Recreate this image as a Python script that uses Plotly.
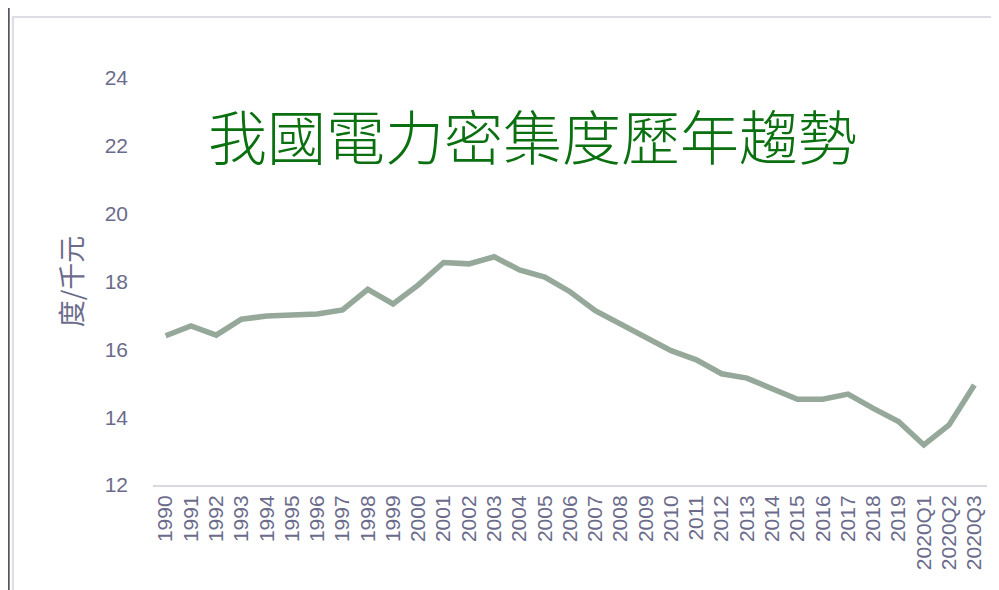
"""我國電力密集度歷年趨勢 - line chart recreated with plotly"""

import plotly.graph_objects as go

years = [str(y) for y in range(1990, 2020)] + ["2020Q1", "2020Q2", "2020Q3"]
intensity = [16.40, 16.69, 16.42, 16.89, 16.98, 16.99, 17.04, 17.16, 17.77, 17.34,
             17.90, 18.56, 18.52, 18.73, 18.34, 18.13, 17.70, 17.14, 16.75, 16.36,
             15.96, 15.69, 15.28, 15.15, 14.82, 14.53, 14.53, 14.68, 14.26, 13.87,
             13.18, 13.77, 14.95]

y_ticks = [12, 14, 16, 18, 20, 22, 24]

label_color = "#6b6b8b"
tick_font = dict(family="Liberation Sans, Arial, sans-serif", size=21, color=label_color)

fig = go.Figure()

fig.add_trace(go.Scatter(
    x=years,
    y=intensity,
    mode="lines",
    line=dict(color="#95a89a", width=5.5),
    showlegend=False,
))

# outer frame of the original slide (page body has an 8px margin)
fig.add_shape(type="rect", xref="paper", yref="paper",
              x0=-0.168, y0=-0.3, x1=1.05, y1=1.15,
              line=dict(color="#dcdce4", width=2), fillcolor="rgba(0,0,0,0)", layer="below")
fig.add_shape(type="line", xref="paper", yref="paper",
              x0=-0.173, y0=-0.3, x1=-0.173, y1=1.25,
              line=dict(color="#55555f", width=2))

fig.add_annotation(
    text="我國電力密集度歷年趨勢",
    xref="paper", yref="paper", x=0.455, y=0.86,
    xanchor="center", yanchor="middle",
    showarrow=False,
    font=dict(family="Noto Sans CJK TC, sans-serif", size=59, color="#0a7010", weight=300),
)

fig.update_layout(
    width=999, height=590,
    margin=dict(l=145, r=20, t=70, b=113),
    paper_bgcolor="white",
    plot_bgcolor="white",
    xaxis=dict(
        type="category",
        tickmode="array",
        tickvals=years,
        ticktext=years,
        tickangle=-90,
        tickfont=tick_font,
        showgrid=False,
        showline=True,
        linecolor="#d9d9df",
        linewidth=2,
        ticks="",
        range=[-0.5, len(years) - 0.5],
    ),
    yaxis=dict(
        range=[12, 24],
        tickvals=y_ticks,
        tickfont=tick_font,
        showgrid=False,
        zeroline=False,
        showline=False,
        ticks="",
        ticklabelstandoff=24,
        title=dict(text="度/千元", standoff=14,
                   font=dict(family="Noto Sans CJK TC, sans-serif", size=27, color=label_color)),
    ),
)

fig.write_html("out.html")
